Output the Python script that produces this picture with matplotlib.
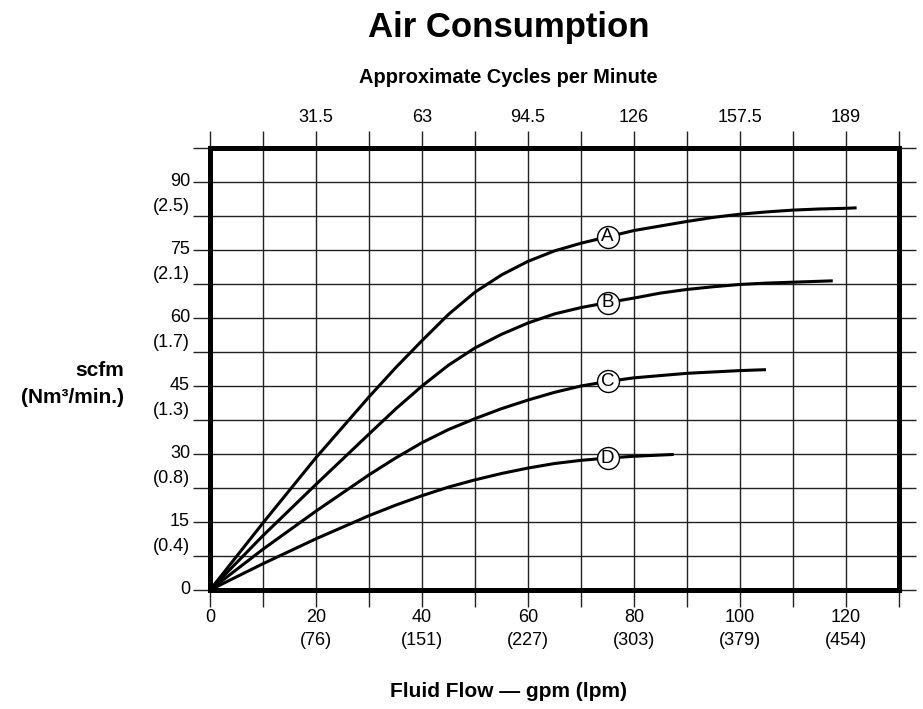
import numpy as np
import matplotlib.pyplot as plt
from matplotlib import transforms

# fluid flow (gpm) and air consumption (scfm) for each curve
flow_a = [0, 10, 20, 30, 35, 40, 45, 50, 55, 60, 65, 70, 75, 80, 85, 90, 95, 100, 105, 110, 115, 120, 122]
scfm_a = [0, 14.8, 29.2, 42.6, 49.0, 55.0, 60.8, 65.7, 69.5, 72.5, 74.8, 76.5, 77.9,
          79.3, 80.3, 81.3, 82.2, 82.9, 83.4, 83.8, 84.05, 84.2, 84.3]

flow_b = [0, 10, 20, 30, 35, 40, 45, 50, 55, 60, 65, 70, 75, 80, 85, 90, 95, 100, 105, 110, 117.5]
scfm_b = [0, 12.0, 23.3, 34.4, 39.9, 45.0, 49.6, 53.4, 56.4, 58.9, 60.9, 62.3, 63.4,
          64.4, 65.5, 66.3, 66.9, 67.4, 67.7, 67.9, 68.2]

flow_c = [0, 10, 20, 30, 35, 40, 45, 50, 55, 60, 65, 70, 75, 80, 85, 90, 95, 100, 104.9]
scfm_c = [0, 9.0, 17.4, 25.4, 29.1, 32.5, 35.4, 37.8, 40.0, 41.9, 43.6, 45.0, 46.0,
          46.8, 47.3, 47.8, 48.1, 48.4, 48.6]

flow_d = [0, 10, 20, 30, 35, 40, 45, 50, 55, 60, 65, 70, 75, 80, 87.5]
scfm_d = [0, 5.8, 11.3, 16.4, 18.7, 20.8, 22.7, 24.3, 25.7, 26.9, 27.9, 28.6, 29.1, 29.5, 29.9]

curve_names = ['A', 'B', 'C', 'D']
label_flow = 75

# axis labelling
gpm_ticks = [0, 20, 40, 60, 80, 100, 120]
lpm_labels = ['', '(76)', '(151)', '(227)', '(303)', '(379)', '(454)']
cpm_labels = ['31.5', '63', '94.5', '126', '157.5', '189']
scfm_ticks = [0, 15, 30, 45, 60, 75, 90]
nm3_ticks = [7.5, 22.5, 37.5, 52.5, 67.5, 82.5]
nm3_labels = ['(0.4)', '(0.8)', '(1.3)', '(1.7)', '(2.1)', '(2.5)']

plt.rcParams['font.family'] = ['Liberation Sans', 'DejaVu Sans']

fig = plt.figure(figsize=(9.23, 7.09), dpi=100)
fig.patch.set_facecolor('white')
ax = fig.add_axes([210 / 923, 119 / 709, 689 / 923, 442 / 709])

ax.set_xlim(0, 130)
ax.set_ylim(0, 97.5)

# grid lines run past the frame on every side, done with long outward ticks
ax.set_xticks(np.arange(0, 131, 10))
ax.set_yticks(np.arange(0, 97.6, 7.5))
ax.tick_params(axis='both', which='both', direction='out', color='#222222',
               width=1.0, labelleft=False, labelbottom=False)
ax.tick_params(axis='x', length=12, top=True, bottom=True)
ax.tick_params(axis='y', length=12.5, left=True, right=True)
ax.grid(True, color='#222222', linewidth=1.0)
ax.set_axisbelow(True)

for spine in ax.spines.values():
    spine.set_linewidth(3.6)
    spine.set_color('black')
    spine.set_zorder(5)

series = [(flow_a, scfm_a), (flow_b, scfm_b), (flow_c, scfm_c), (flow_d, scfm_d)]
for name, (flow, scfm) in zip(curve_names, series):
    ax.plot(flow, scfm, color='black', linewidth=2.2, solid_capstyle='butt',
            solid_joinstyle='round', zorder=3)
    ly = np.interp(label_flow, flow, scfm)
    ax.plot([label_flow], [ly], marker='o', markersize=15.8, markerfacecolor='white',
            markeredgecolor='black', markeredgewidth=1.0, zorder=4)
    ax.text(label_flow, ly, name, ha='center', va='center', fontsize=13.5, zorder=6)

# bottom: gpm with lpm below
xb = transforms.blended_transform_factory(ax.transData, ax.transAxes)
for g, l in zip(gpm_ticks, lpm_labels):
    ax.text(g, -0.063, str(g), transform=xb, ha='center', va='center', fontsize=13)
    if l:
        ax.text(g, -0.115, l, transform=xb, ha='center', va='center', fontsize=13)

# top: approximate cycles per minute
for g, c in zip(gpm_ticks[1:], cpm_labels):
    ax.text(g, 1.068, c, transform=xb, ha='center', va='center', fontsize=13)

# left: scfm on the major lines, Nm3/min sitting on the half lines
yb = transforms.blended_transform_factory(ax.transAxes, ax.transData)
for s in scfm_ticks:
    ax.text(-0.029, s, str(s), transform=yb, ha='right', va='center', fontsize=13)
for s, n in zip(nm3_ticks, nm3_labels):
    ax.text(-0.029, s + 0.3, n, transform=yb, ha='right', va='bottom', fontsize=13)

fig.text(0.551, 0.961, 'Air Consumption', ha='center', va='center',
         fontsize=25, fontweight='bold')
fig.text(0.551, 0.891, 'Approximate Cycles per Minute', ha='center', va='center',
         fontsize=14.4, fontweight='bold')
fig.text(0.551, 0.024, 'Fluid Flow \u2014 gpm (lpm)', ha='center', va='center',
         fontsize=15, fontweight='bold')
fig.text(0.134, 0.478, 'scfm', ha='right', va='center',
         fontsize=15, fontweight='bold')
fig.text(0.134, 0.439, '(Nm\u00b3/min.)', ha='right', va='center',
         fontsize=15, fontweight='bold')

plt.savefig('out.png', dpi=100, facecolor='white')
